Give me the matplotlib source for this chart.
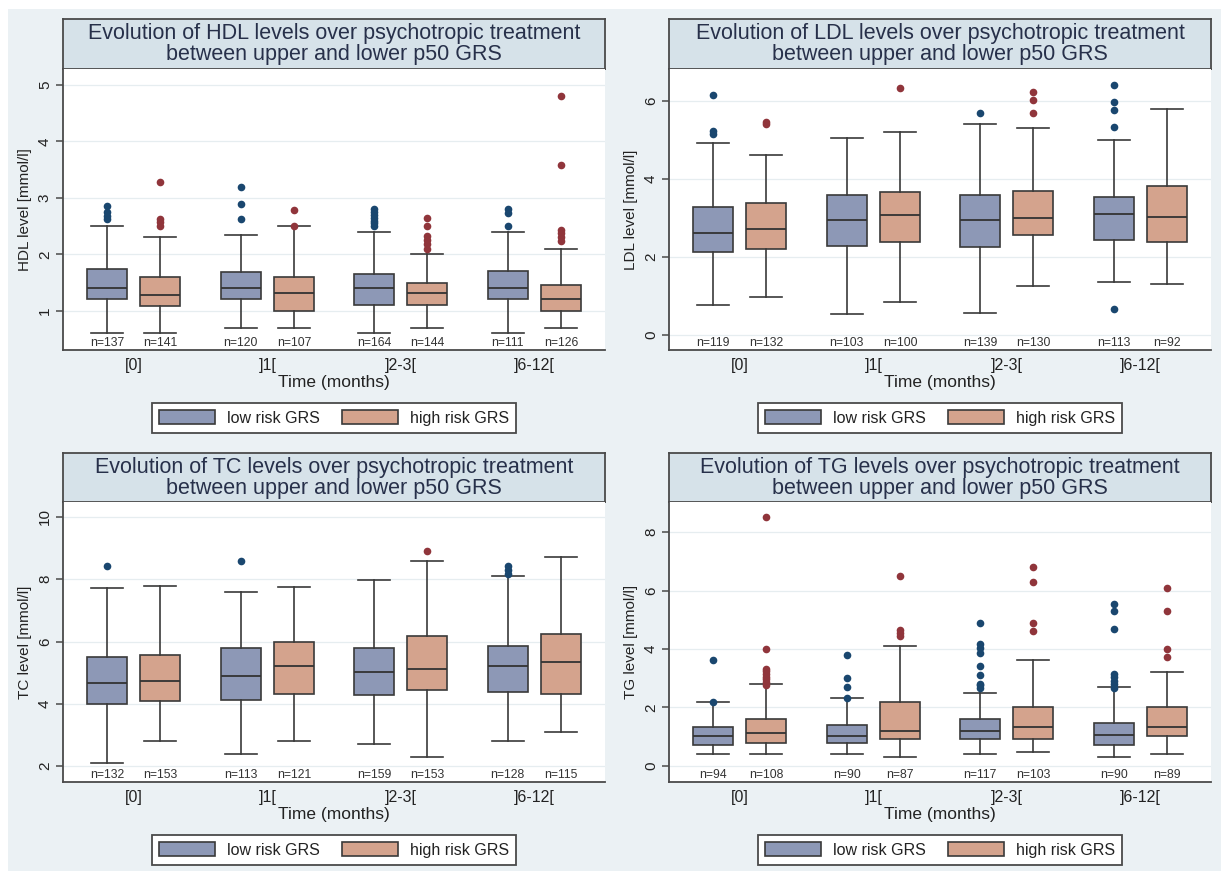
import matplotlib.pyplot as plt
from matplotlib.patches import Patch, Rectangle
from matplotlib.transforms import blended_transform_factory

plt.rcParams['font.family'] = ['Liberation Sans', 'DejaVu Sans']

# === Data ===
times = ["[0]", "]1[", "]2-3[", "]6-12["]
groups = ["low risk GRS", "high risk GRS"]

# box stats per time point: (lower whisker, q1, median, q3, upper whisker)
hdl_low = [(0.61, 1.21, 1.40, 1.75, 2.50), (0.70, 1.21, 1.40, 1.69, 2.34),
           (0.61, 1.11, 1.40, 1.65, 2.40), (0.61, 1.21, 1.40, 1.70, 2.40)]
hdl_high = [(0.61, 1.09, 1.29, 1.60, 2.30), (0.70, 1.00, 1.31, 1.60, 2.50),
            (0.70, 1.11, 1.31, 1.50, 2.00), (0.70, 1.00, 1.21, 1.46, 2.10)]
hdl_low_out = [[2.85, 2.75, 2.68, 2.62], [3.19, 2.90, 2.62],
               [2.80, 2.75, 2.70, 2.65, 2.60, 2.55, 2.50], [2.81, 2.74, 2.50]]
hdl_high_out = [[3.29, 2.62, 2.57, 2.50], [2.79, 2.50],
                [2.65, 2.50, 2.33, 2.26, 2.18, 2.10], [4.81, 3.59, 2.44, 2.38, 2.31, 2.24]]
hdl_n_low = [137, 120, 164, 111]
hdl_n_high = [141, 107, 144, 126]

ldl_low = [(0.77, 2.12, 2.61, 3.28, 4.93), (0.54, 2.28, 2.94, 3.60, 5.06),
           (0.58, 2.25, 2.94, 3.60, 5.42), (1.37, 2.45, 3.11, 3.54, 5.01)]
ldl_high = [(0.98, 2.20, 2.71, 3.39, 4.61), (0.86, 2.40, 3.09, 3.68, 5.20),
            (1.27, 2.57, 3.01, 3.70, 5.31), (1.32, 2.38, 3.04, 3.83, 5.79)]
ldl_low_out = [[6.16, 5.22, 5.16], [], [5.68], [6.41, 5.98, 5.78, 5.33, 0.68]]
ldl_high_out = [[5.46, 5.40], [6.34], [6.24, 6.02, 5.68], []]
ldl_n_low = [119, 103, 139, 113]
ldl_n_high = [132, 100, 130, 92]

tc_low = [(2.11, 4.01, 4.67, 5.50, 7.72), (2.40, 4.13, 4.88, 5.80, 7.59),
          (2.70, 4.28, 5.02, 5.80, 7.99), (2.80, 4.37, 5.21, 5.85, 8.09)]
tc_high = [(2.80, 4.09, 4.74, 5.58, 7.79), (2.80, 4.31, 5.22, 6.00, 7.74),
           (2.30, 4.43, 5.11, 6.18, 8.58), (3.09, 4.32, 5.33, 6.24, 8.70)]
tc_low_out = [[8.44], [8.59], [], [8.42, 8.29, 8.16]]
tc_high_out = [[], [], [8.90], []]
tc_n_low = [132, 113, 159, 128]
tc_n_high = [153, 121, 153, 115]

tg_low = [(0.40, 0.73, 1.02, 1.32, 2.20), (0.40, 0.80, 1.02, 1.40, 2.31),
          (0.40, 0.91, 1.19, 1.62, 2.51), (0.30, 0.73, 1.06, 1.48, 2.71)]
tg_high = [(0.40, 0.80, 1.11, 1.62, 2.81), (0.30, 0.91, 1.19, 2.18, 4.11),
           (0.48, 0.91, 1.32, 2.00, 3.62), (0.40, 1.02, 1.32, 2.00, 3.22)]
tg_low_out = [[3.62, 2.20], [3.81, 3.01, 2.71, 2.31],
              [4.89, 4.16, 4.02, 3.88, 3.42, 3.11, 2.82, 2.76, 2.68],
              [5.53, 5.30, 4.70, 3.14, 3.03, 2.91, 2.80, 2.68]]
tg_high_out = [[8.51, 3.99, 3.33, 3.24, 3.16, 3.05, 2.96, 2.86, 2.76],
               [6.50, 4.64, 4.55, 4.46], [6.79, 6.29, 4.89, 4.61], [6.10, 5.30, 3.99, 3.71]]
tg_n_low = [94, 90, 117, 90]
tg_n_high = [108, 87, 103, 89]

# === Style ===
W, H = 1221, 871
BG = '#EBF1F4'
TITLE_BG = '#D6E2E9'
LINE = '#4a4a4a'
LOW_C, HIGH_C = '#8D98B6', '#D4A38D'
LOW_DOT, HIGH_DOT = '#1A476F', '#90353B'
TXT = '#222222'


def rect(x0, y0, x1, y1):
    # pixel box (origin top-left) -> figure fraction rect
    return [x0 / W, 1 - y1 / H, (x1 - x0) / W, (y1 - y0) / H]


def stats(boxes, outs):
    return [dict(whislo=b[0], q1=b[1], med=b[2], q3=b[3], whishi=b[4], fliers=o)
            for b, o in zip(boxes, outs)]


def panel(fig, x0, x1, ty0, ty1, py1, lipid, ylab, low, high, low_out, high_out,
          n_low, n_high, ylim, yticks):
    # title box
    tax = fig.add_axes(rect(x0, ty0, x1, ty1))
    tax.set_facecolor(TITLE_BG)
    tax.set_xticks([])
    tax.set_yticks([])
    for s in tax.spines.values():
        s.set_color(LINE)
        s.set_linewidth(1.3)
    tax.text(0.5, 0.5, f"Evolution of {lipid} levels over psychotropic treatment\n"
             "between upper and lower p50 GRS", ha='center', va='center',
             fontsize=15.5, color='#27304a', linespacing=1.0, transform=tax.transAxes)

    ax = fig.add_axes(rect(x0, ty1, x1, py1))
    ax.set_facecolor('white')
    for side in ['top', 'right']:
        ax.spines[side].set_visible(False)
    for side in ['left', 'bottom']:
        ax.spines[side].set_color(LINE)
        ax.spines[side].set_linewidth(1.3)

    pos = list(range(len(times)))
    for st, offs, fc, dot in [(stats(low, low_out), -0.2, LOW_C, LOW_DOT),
                              (stats(high, high_out), 0.2, HIGH_C, HIGH_DOT)]:
        ax.bxp(st, positions=[p + offs for p in pos], widths=0.3, capwidths=0.24,
               patch_artist=True, manage_ticks=False,
               boxprops=dict(facecolor=fc, edgecolor='#3a3a3a', linewidth=1.2),
               medianprops=dict(color='#333333', linewidth=1.3),
               whiskerprops=dict(color='#3a3a3a', linewidth=1.2),
               capprops=dict(color='#3a3a3a', linewidth=1.2),
               flierprops=dict(marker='o', markersize=5.5, markerfacecolor=dot,
                               markeredgecolor=dot, markeredgewidth=0))

    tr = blended_transform_factory(ax.transData, ax.transAxes)
    for p, a, b in zip(pos, n_low, n_high):
        ax.text(p - 0.2, 0.026, f"n={a}", transform=tr, ha='center', va='center',
                fontsize=8.8, color='#333333')
        ax.text(p + 0.2, 0.026, f"n={b}", transform=tr, ha='center', va='center',
                fontsize=8.8, color='#333333')

    ax.set_xlim(-0.53, 3.53)
    ax.set_ylim(*ylim)
    ax.set_xticks(pos)
    ax.set_xticklabels(times, fontsize=11.5, color=TXT)
    ax.tick_params(axis='x', length=0, pad=6)
    ax.set_yticks(yticks)
    ax.set_yticklabels([str(t) for t in yticks], rotation=90, va='center',
                       fontsize=11, color=TXT)
    ax.tick_params(axis='y', length=5, width=1.1, color=LINE, pad=3)
    ax.grid(axis='y', color='#E6EDF0', linewidth=0.9)
    ax.set_axisbelow(True)
    ax.set_xlabel("Time (months)", fontsize=12.5, color=TXT, labelpad=1)
    ax.set_ylabel(ylab, fontsize=11, color=TXT, labelpad=4)

    leg_y = py1 + 68
    leg = fig.legend(handles=[Patch(facecolor=LOW_C, edgecolor='#3a3a3a', linewidth=1.2),
                              Patch(facecolor=HIGH_C, edgecolor='#3a3a3a', linewidth=1.2)],
                     labels=groups, loc='center', ncol=2,
                     bbox_to_anchor=((x0 + x1) / 2 / W, 1 - leg_y / H),
                     frameon=True, fancybox=False, edgecolor=LINE, facecolor='white',
                     framealpha=1, fontsize=11.5, handlelength=3.5, handleheight=0.9,
                     handletextpad=0.75, columnspacing=1.4, borderpad=0.45)
    leg.get_frame().set_linewidth(1.3)
    for t in leg.get_texts():
        t.set_color(TXT)


fig = plt.figure(figsize=(W / 100, H / 100), dpi=100, facecolor='white')
fig.patches.append(Rectangle((8 / W, 0), 1, 1 - 9 / H, transform=fig.transFigure,
                             facecolor=BG, edgecolor='none', zorder=-10))

panel(fig, 63, 605, 19, 69, 350, "HDL", "HDL level [mmol/l]", hdl_low, hdl_high,
      hdl_low_out, hdl_high_out, hdl_n_low, hdl_n_high, (0.31, 5.28), [1, 2, 3, 4, 5])
panel(fig, 669, 1211, 19, 69, 350, "LDL", "LDL level [mmol/l]", ldl_low, ldl_high,
      ldl_low_out, ldl_high_out, ldl_n_low, ldl_n_high, (-0.38, 6.82), [0, 2, 4, 6])
panel(fig, 63, 605, 453, 502, 782, "TC", "TC level [mmol/l]", tc_low, tc_high,
      tc_low_out, tc_high_out, tc_n_low, tc_n_high, (1.49, 10.48), [2, 4, 6, 8, 10])
panel(fig, 669, 1211, 453, 502, 782, "TG", "TG level [mmol/l]", tg_low, tg_high,
      tg_low_out, tg_high_out, tg_n_low, tg_n_high, (-0.55, 9.03), [0, 2, 4, 6, 8])

fig.savefig("out.png", dpi=100, facecolor=fig.get_facecolor())
